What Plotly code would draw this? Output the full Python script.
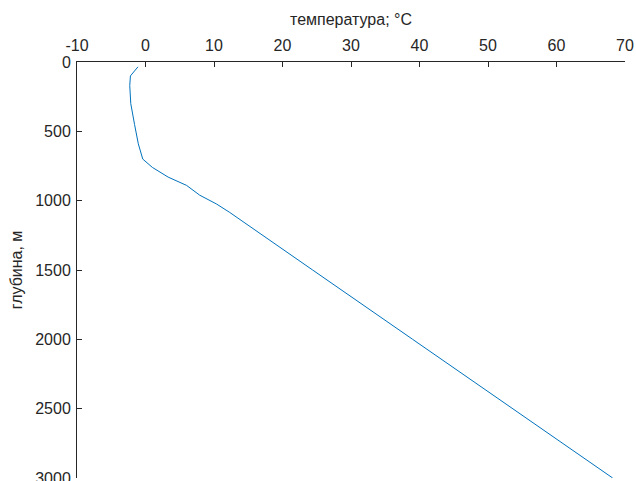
import plotly.graph_objects as go

# temperature (°C) vs depth (m)
temperature = [-1.1, -2.2, -2.3, -2.15, -1.6, -1.05, -0.4, 1.0, 3.3, 6.0, 7.9, 10.4, 12.3, 15.7, 24.4, 39.0, 53.6, 68.2]
depth = [35, 100, 170, 300, 450, 590, 700, 760, 830, 890, 960, 1025, 1085, 1200, 1500, 2000, 2500, 3000]

x_ticks = [-10, 0, 10, 20, 30, 40, 50, 60, 70]
x_tick_labels = ["-10", "0", "10", "20", "30", "40", "50", "60", "70"]
y_ticks = [0, 500, 1000, 1500, 2000, 2500, 3000]
y_tick_labels = ["0", "500", "1000", "1500", "2000", "2500", "3000"]

axis_color = "#262626"
font_family = "Liberation Sans, Arial, sans-serif"

fig = go.Figure()
fig.add_trace(go.Scatter(
    x=temperature, y=depth, mode="lines",
    line=dict(color="#0072BD", width=1),
    showlegend=False,
))

fig.update_layout(
    width=636, height=481,
    margin=dict(l=77, r=11, t=62, b=3, pad=0, autoexpand=False),
    paper_bgcolor="white", plot_bgcolor="white",
    font=dict(family=font_family, size=16, color=axis_color),
    xaxis=dict(
        side="top", range=[-10, 70], tickvals=x_ticks, ticktext=x_tick_labels,
        showline=True, linecolor=axis_color, linewidth=1,
        ticks="inside", ticklen=5, tickcolor=axis_color,
        showgrid=False, zeroline=False, ticklabelstandoff=4,
        ticklabeloverflow="allow", automargin=False,
        title=dict(text="температура; °С", font=dict(size=16, color=axis_color), standoff=6),
        tickfont=dict(size=16, color=axis_color),
    ),
    yaxis=dict(
        range=[3000, 0], tickvals=y_ticks, ticktext=y_tick_labels,
        showline=True, linecolor=axis_color, linewidth=1,
        ticks="inside", ticklen=5, tickcolor=axis_color,
        showgrid=False, zeroline=False, ticklabelstandoff=2,
        ticklabeloverflow="allow", automargin=False,
        title=dict(text="глубина, м", font=dict(size=16, color=axis_color), standoff=8),
        tickfont=dict(size=16, color=axis_color),
    ),
)

fig.write_html("out.html")
